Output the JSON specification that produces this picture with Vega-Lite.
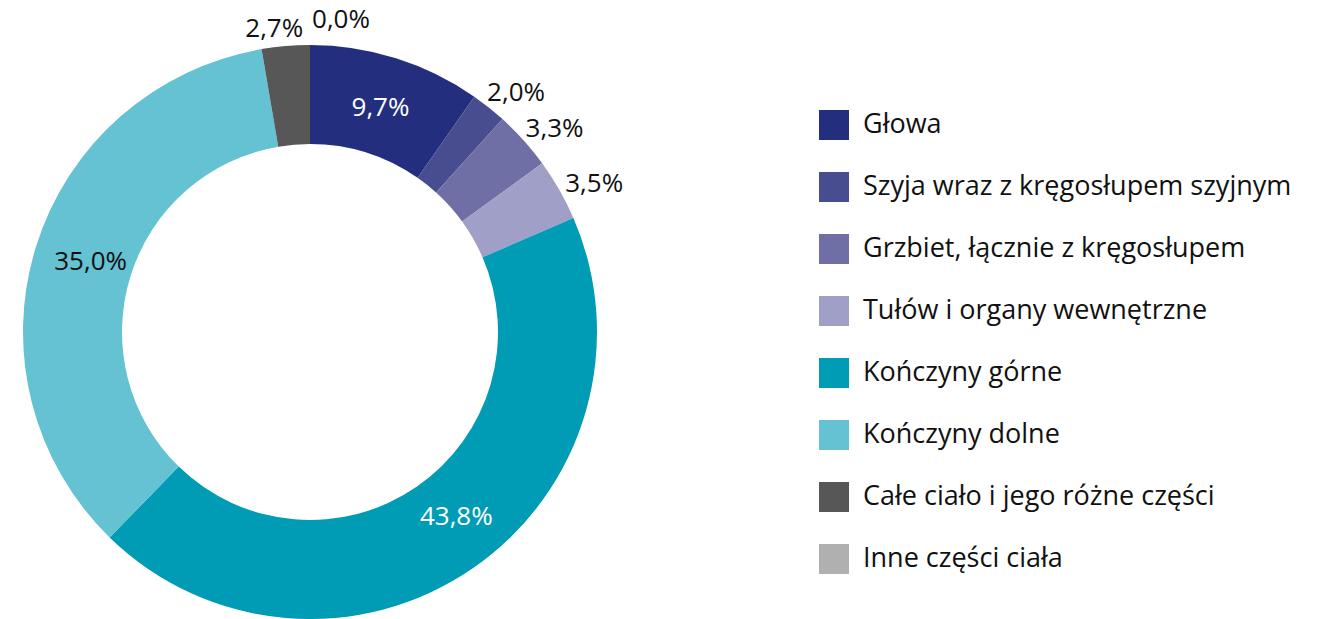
{
  "$schema": "https://vega.github.io/schema/vega-lite/v6.json",
  "width": 574,
  "height": 574,
  "autosize": {"type": "none"},
  "padding": {"left": 23, "top": 45, "right": 725, "bottom": 0},
  "background": "white",
  "config": {"view": {"stroke": null}, "font": "Open Sans"},
  "data": {
    "values": [
      {"part": "Głowa", "value": 9.7, "label": "9,7%", "order": 1},
      {"part": "Szyja wraz z kręgosłupem szyjnym", "value": 2.0, "label": "2,0%", "order": 2},
      {"part": "Grzbiet, łącznie z kręgosłupem", "value": 3.3, "label": "3,3%", "order": 3},
      {"part": "Tułów i organy wewnętrzne", "value": 3.5, "label": "3,5%", "order": 4},
      {"part": "Kończyny górne", "value": 43.8, "label": "43,8%", "order": 5},
      {"part": "Kończyny dolne", "value": 35.0, "label": "35,0%", "order": 6},
      {"part": "Całe ciało i jego różne części", "value": 2.7, "label": "2,7%", "order": 7},
      {"part": "Inne części ciała", "value": 0.0, "label": "0,0%", "order": 8}
    ]
  },
  "encoding": {
    "theta": {"field": "value", "type": "quantitative", "stack": true},
    "order": {"field": "order", "type": "quantitative"}
  },
  "layer": [
    {
      "mark": {"type": "arc", "innerRadius": 188, "outerRadius": 287},
      "encoding": {
        "color": {
          "field": "part",
          "type": "nominal",
          "sort": null,
          "scale": {
            "domain": ["Głowa", "Szyja wraz z kręgosłupem szyjnym", "Grzbiet, łącznie z kręgosłupem", "Tułów i organy wewnętrzne", "Kończyny górne", "Kończyny dolne", "Całe ciało i jego różne części", "Inne części ciała"],
            "range": ["#232f7e", "#474d8f", "#6f6fa6", "#9f9fc8", "#009bb4", "#64c2d3", "#575757", "#b0b0b0"]
          },
          "legend": {
            "orient": "none",
            "legendX": 796,
            "legendY": 65,
            "title": null,
            "symbolType": "square",
            "symbolSize": 900,
            "symbolStrokeWidth": 0,
            "symbolOpacity": 1,
            "labelFontSize": 27,
            "labelFont": "Open Sans",
            "labelColor": "#111111",
            "labelLimit": 600,
            "rowPadding": 32,
            "labelOffset": 14,
            "padding": 0
          }
        }
      }
    },
    {
      "mark": {"type": "text", "radius": 235, "fontSize": 26, "font": "Open Sans", "color": "white"},
      "encoding": {
        "text": {"condition": {"test": "datum.order === 1", "field": "label"}, "value": ""}
      }
    },
    {
      "mark": {"type": "text", "radius": 235, "dx": 13, "dy": -9, "fontSize": 26, "font": "Open Sans", "color": "white"},
      "encoding": {
        "text": {"condition": {"test": "datum.order === 5", "field": "label"}, "value": ""}
      }
    },
    {
      "mark": {"type": "text", "radius": 235, "dx": 5, "fontSize": 26, "font": "Open Sans", "color": "#111111"},
      "encoding": {
        "text": {"condition": {"test": "datum.order === 6", "field": "label"}, "value": ""}
      }
    },
    {
      "mark": {"type": "text", "radius": 318, "dx": 8, "dy": 10, "fontSize": 26, "font": "Open Sans", "color": "#111111"},
      "encoding": {
        "text": {"condition": {"test": "datum.order >= 2 && datum.order <= 4", "field": "label"}, "value": ""}
      }
    },
    {
      "mark": {"type": "text", "radius": 304, "dx": -10, "fontSize": 26, "font": "Open Sans", "color": "#111111"},
      "encoding": {
        "text": {"condition": {"test": "datum.order === 7", "field": "label"}, "value": ""}
      }
    },
    {
      "mark": {"type": "text", "radius": 312, "dx": 31, "fontSize": 26, "font": "Open Sans", "color": "#111111"},
      "encoding": {
        "text": {"condition": {"test": "datum.order === 8", "field": "label"}, "value": ""}
      }
    }
  ]
}
